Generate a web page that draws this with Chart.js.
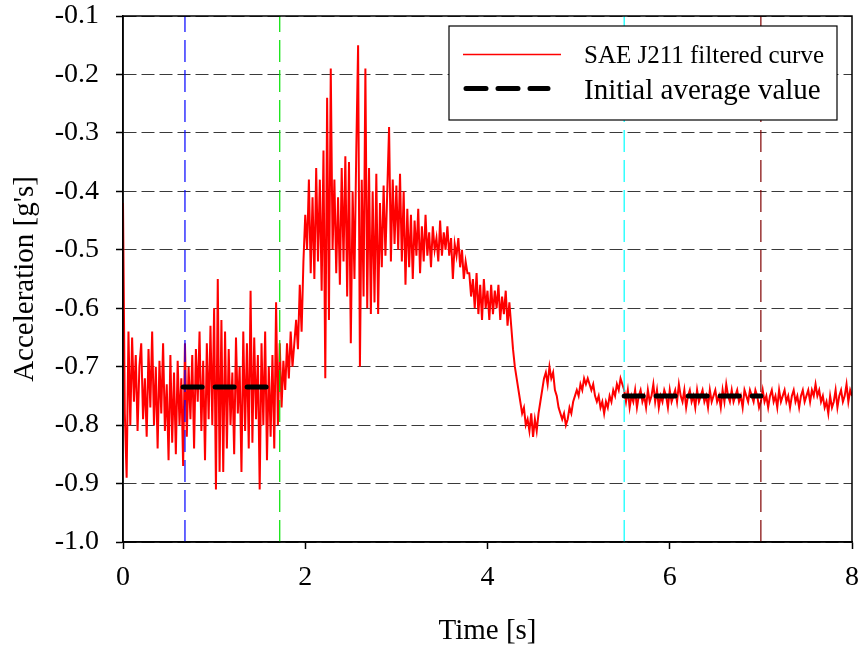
<!DOCTYPE html>
<html>
<head>
<meta charset="utf-8">
<script src="https://cdn.jsdelivr.net/npm/chart.js@4"></script>
<style>
  body { margin: 0; background: #fff; }
  canvas { display: block; }
</style>
</head>
<body>
<canvas id="my-chart" width="862" height="649"></canvas>
<script>
const dt = 0.02;
const accel = [
  -0.42,-0.78,-0.89,-0.64,-0.80,-0.65,-0.76,-0.68,-0.81,-0.70,
  -0.66,-0.79,-0.72,-0.82,-0.67,-0.77,-0.64,-0.80,-0.70,-0.84,
  -0.69,-0.78,-0.66,-0.81,-0.73,-0.86,-0.68,-0.83,-0.71,-0.85,
  -0.69,-0.80,-0.72,-0.87,-0.66,-0.82,-0.70,-0.79,-0.68,-0.84,
  -0.67,-0.76,-0.64,-0.81,-0.69,-0.86,-0.66,-0.79,-0.63,-0.80,
  -0.60,-0.91,-0.55,-0.88,-0.62,-0.88,-0.64,-0.84,-0.67,-0.80,
  -0.71,-0.85,-0.65,-0.78,-0.70,-0.88,-0.64,-0.81,-0.66,-0.84,
  -0.57,-0.83,-0.65,-0.79,-0.68,-0.91,-0.66,-0.80,-0.64,-0.86,
  -0.70,-0.82,-0.68,-0.84,-0.59,-0.80,-0.66,-0.77,-0.69,-0.74,
  -0.66,-0.72,-0.64,-0.70,-0.66,-0.62,-0.67,-0.56,-0.64,-0.52,
  -0.44,-0.50,-0.38,-0.54,-0.41,-0.55,-0.36,-0.52,-0.38,-0.57,
  -0.33,-0.72,-0.24,-0.62,-0.19,-0.50,-0.38,-0.54,-0.41,-0.56,
  -0.36,-0.52,-0.34,-0.58,-0.35,-0.66,-0.40,-0.55,-0.33,-0.15,
  -0.70,-0.38,-0.58,-0.19,-0.60,-0.36,-0.61,-0.40,-0.59,-0.37,
  -0.61,-0.42,-0.53,-0.39,-0.51,-0.40,-0.29,-0.52,-0.38,-0.49,
  -0.39,-0.50,-0.37,-0.52,-0.40,-0.56,-0.43,-0.53,-0.44,-0.55,
  -0.45,-0.51,-0.43,-0.54,-0.46,-0.52,-0.44,-0.51,-0.47,-0.53,
  -0.46,-0.50,-0.48,-0.52,-0.45,-0.51,-0.47,-0.50,-0.46,-0.51,
  -0.48,-0.55,-0.49,-0.51,-0.48,-0.53,-0.50,-0.55,-0.52,-0.54,
  -0.54,-0.58,-0.55,-0.60,-0.54,-0.61,-0.56,-0.62,-0.55,-0.60,
  -0.57,-0.62,-0.56,-0.61,-0.57,-0.60,-0.56,-0.62,-0.58,-0.61,
  -0.57,-0.63,-0.59,-0.63,-0.67,-0.70,-0.72,-0.74,-0.76,-0.78,
  -0.77,-0.80,-0.79,-0.81,-0.78,-0.82,-0.79,-0.81,-0.78,-0.76,
  -0.74,-0.72,-0.71,-0.73,-0.70,-0.72,-0.71,-0.74,-0.75,-0.77,
  -0.78,-0.79,-0.78,-0.80,-0.79,-0.77,-0.78,-0.76,-0.75,-0.74,
  -0.75,-0.73,-0.74,-0.72,-0.73,-0.72,-0.73,-0.74,-0.73,-0.75,
  -0.76,-0.75,-0.77,-0.76,-0.78,-0.76,-0.77,-0.75,-0.76,-0.74,
  -0.75,-0.73,-0.74,-0.72,-0.73,-0.74,-0.76,-0.74,-0.77,-0.75,
  -0.76,-0.74,-0.77,-0.75,-0.74,-0.76,-0.75,-0.77,-0.74,-0.76,
  -0.75,-0.73,-0.76,-0.74,-0.77,-0.75,-0.76,-0.74,-0.75,-0.77,
  -0.74,-0.76,-0.75,-0.74,-0.76,-0.73,-0.75,-0.76,-0.74,-0.77,
  -0.75,-0.74,-0.76,-0.75,-0.77,-0.74,-0.76,-0.75,-0.74,-0.76,
  -0.75,-0.77,-0.74,-0.76,-0.75,-0.74,-0.76,-0.75,-0.77,-0.74,
  -0.76,-0.73,-0.75,-0.76,-0.74,-0.76,-0.75,-0.74,-0.76,-0.75,
  -0.77,-0.74,-0.75,-0.76,-0.74,-0.75,-0.76,-0.74,-0.75,-0.77,
  -0.76,-0.74,-0.76,-0.75,-0.77,-0.75,-0.74,-0.76,-0.75,-0.77,
  -0.74,-0.76,-0.75,-0.74,-0.76,-0.75,-0.77,-0.75,-0.74,-0.76,
  -0.75,-0.77,-0.75,-0.74,-0.76,-0.75,-0.74,-0.76,-0.74,-0.75,
  -0.73,-0.75,-0.74,-0.76,-0.75,-0.77,-0.76,-0.78,-0.75,-0.77,
  -0.76,-0.74,-0.77,-0.75,-0.74,-0.76,-0.75,-0.73,-0.76,-0.74,
  -0.75
];

const markerTimes = [0.68, 1.72, 5.5, 7.0];
const markerColors = ['#0000ff', '#00e000', '#00ffff', '#800000'];
const avgSpans = [[0.66, 1.65], [5.5, 7.0]];
const avgValues = [-0.735, -0.75];
const legendLabels = ['SAE J211 filtered curve', 'Initial average value'];

const serif = '"Liberation Serif", "Times New Roman", serif';

const curve = accel.map((v, i) => ({ x: i * dt, y: v }));

const datasets = [];
avgSpans.forEach((span, k) => {
  datasets.push({
    data: [{ x: span[0], y: avgValues[k] }, { x: span[1], y: avgValues[k] }],
    borderColor: '#000',
    borderWidth: 5,
    borderDash: [19, 13],
    borderCapStyle: 'round',
    pointRadius: 0,
  });
});
markerTimes.forEach((t, k) => {
  datasets.push({
    data: [{ x: t, y: -1.0 }, { x: t, y: -0.1 }],
    borderColor: markerColors[k],
    borderWidth: 1.2,
    borderDash: [22, 8],
    pointRadius: 0,
  });
});
datasets.push({
  data: curve,
  borderColor: '#ff0000',
  borderWidth: 2,
  pointRadius: 0,
  tension: 0,
});

// frame and boxed legend, the way the original draws them
const frameAndLegend = {
  id: 'frameAndLegend',
  afterDraw(chart) {
    const ctx = chart.ctx;
    const a = chart.chartArea;
    ctx.save();
    ctx.strokeStyle = '#000';
    ctx.lineWidth = 1.5;
    ctx.setLineDash([]);
    ctx.strokeRect(a.left, a.top, a.right - a.left, a.bottom - a.top);

    const bx = 449, by = 26, bw = 388, bh = 94;
    ctx.fillStyle = '#fff';
    ctx.fillRect(bx, by, bw, bh);
    ctx.lineWidth = 1.2;
    ctx.strokeRect(bx, by, bw, bh);

    ctx.strokeStyle = '#ff0000';
    ctx.lineWidth = 1.5;
    ctx.beginPath();
    ctx.moveTo(463, 54.5);
    ctx.lineTo(561, 54.5);
    ctx.stroke();

    ctx.strokeStyle = '#000';
    ctx.lineWidth = 5;
    ctx.lineCap = 'round';
    ctx.setLineDash([20, 12]);
    ctx.beginPath();
    ctx.moveTo(466, 88.5);
    ctx.lineTo(548, 88.5);
    ctx.stroke();

    ctx.fillStyle = '#000';
    ctx.textAlign = 'left';
    ctx.textBaseline = 'alphabetic';
    ctx.font = '25px ' + serif;
    ctx.fillText(legendLabels[0], 584, 63);
    ctx.font = '29px ' + serif;
    ctx.fillText(legendLabels[1], 584, 99);
    ctx.restore();
  }
};

const canvas = document.getElementById('my-chart');
const ctx = canvas.getContext('2d');

const chart = new Chart(ctx, {
  type: 'line',
  data: { datasets: datasets },
  options: {
    responsive: false,
    animation: false,
    layout: { padding: { top: 16, right: 10, bottom: 0, left: 0 } },
    plugins: {
      legend: { display: false },
      tooltip: { enabled: false },
    },
    scales: {
      x: {
        type: 'linear',
        min: 0,
        max: 8,
        ticks: {
          stepSize: 2,
          color: '#000',
          padding: 12,
          font: { family: serif, size: 28 },
        },
        grid: {
          drawOnChartArea: false,
          drawTicks: true,
          tickLength: 7,
          tickColor: '#000',
          tickWidth: 1.5,
        },
        border: { color: '#000', width: 1.5 },
        title: {
          display: true,
          text: 'Time [s]',
          color: '#000',
          font: { family: serif, size: 29 },
          padding: { top: 0, bottom: 0 },
        },
        afterFit(s) {
          s.height = 107;
          s.paddingLeft = 0;
          s.paddingRight = 0;
        },
      },
      y: {
        min: -1.0,
        max: -0.1,
        ticks: {
          stepSize: 0.1,
          color: '#000',
          padding: 17,
          font: { family: serif, size: 28 },
          callback: v => v.toFixed(1),
        },
        grid: {
          color: '#3a3a3a',
          lineWidth: 1,
          drawTicks: true,
          tickLength: 7,
          tickColor: '#000',
          tickWidth: 1.5,
        },
        border: { color: '#000', width: 1.5, dash: [13, 5] },
        title: {
          display: true,
          text: "Acceleration [g's]",
          color: '#000',
          font: { family: serif, size: 29 },
          padding: { top: 8, bottom: 0 },
        },
        afterFit(s) {
          s.width = 123;
          s.paddingTop = 0;
          s.paddingBottom = 0;
        },
      },
    },
  },
  plugins: [frameAndLegend],
});
</script>
</body>
</html>
